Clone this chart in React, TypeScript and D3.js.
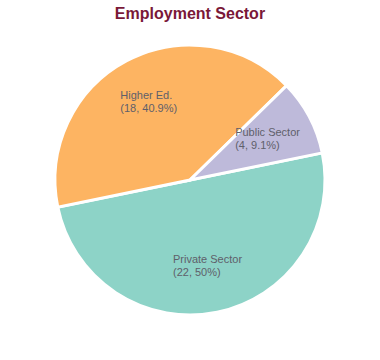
import * as d3 from 'd3';
import React, { useRef, useEffect } from 'react';

// slice data
const sectors = ['Private Sector', 'Higher Ed.', 'Public Sector'];
const counts = [22, 18, 4];
const percents = ['50%', '40.9%', '9.1%'];
const colors = ['#8dd3c7', '#fdb462', '#bebada'];

const W = 380;
const H = 360;

function App() {
  const svgRef = useRef<SVGSVGElement>(null);

  useEffect(() => {
    const svg = d3.select(svgRef.current);
    svg.selectAll('*').remove();

    const cx = 190;
    const cy = 180;
    const radius = 135;

    // title
    svg.append('text')
      .attr('x', cx)
      .attr('y', 19)
      .attr('text-anchor', 'middle')
      .attr('font-family', 'Liberation Sans, Arial, sans-serif')
      .attr('font-weight', 'bold')
      .attr('font-size', 16)
      .attr('fill', '#7a1838')
      .text('Employment Sector');

    const data = sectors.map((s, i) => ({ s, n: counts[i], p: percents[i], c: colors[i] }));

    const start = (78.4 * Math.PI) / 180;
    const pie = d3.pie<any>()
      .value(d => d.n)
      .sort(null)
      .startAngle(start)
      .endAngle(start + 2 * Math.PI);

    const arc = d3.arc<any>().innerRadius(0).outerRadius(radius);
    const labelArc = d3.arc<any>().innerRadius(88).outerRadius(88);

    const g = svg.append('g').attr('transform', `translate(${cx},${cy})`);

    g.selectAll('path')
      .data(pie(data))
      .join('path')
      .attr('d', arc)
      .attr('fill', d => d.data.c)
      .attr('stroke', '#fff')
      .attr('stroke-width', 3);

    // labels: two left-aligned lines, block centred on the centroid
    pie(data).forEach(d => {
      const [lx, ly] = labelArc.centroid(d);
      const t = g.append('text')
        .attr('font-family', 'Liberation Sans, Arial, sans-serif')
        .attr('font-size', 11)
        .attr('fill', '#5f5f6a');
      t.append('tspan').attr('x', 0).attr('y', -2).text(d.data.s);
      t.append('tspan').attr('x', 0).attr('y', 11).text(`(${d.data.n}, ${d.data.p})`);
      const bb = (t.node() as SVGTextElement).getBBox();
      t.attr('transform', `translate(${lx - bb.width / 2},${ly - 1})`);
    });
  }, []);

  return (
    <svg ref={svgRef} width={W} height={H} style={{ position: 'absolute', left: 0, top: 0 }} />
  );
}

export default App;
